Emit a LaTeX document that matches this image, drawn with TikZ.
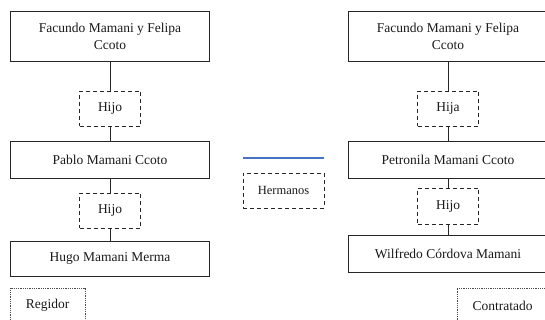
\documentclass[tikz,border=0pt]{standalone}
\usepackage{fontspec}
\setmainfont{Liberation Serif}
\definecolor{azul}{RGB}{68,114,196}
\begin{document}
\begin{tikzpicture}[x=1pt,y=1pt,
    texto/.style={font=\rmfamily\fontsize{13.5}{17}\selectfont,text=black!90},
    persona/.style={texto,draw=black!85,line width=.8pt,minimum width=199pt,inner sep=0pt,align=center},
    parentesco/.style={texto,draw=black!85,line width=.8pt,dash pattern=on 4pt off 3pt,minimum height=35pt,inner sep=0pt},
    cargo/.style={texto,draw=black!70,line width=.6pt,dash pattern=on .8pt off 1pt,minimum height=35pt,inner sep=0pt}]
    \clip (0,0) rectangle (545,320);
    % familia izquierda
    \node[persona,minimum height=50pt] (padresA) at (110,284) {Facundo Mamani y Felipa\\Ccoto};
    \node[parentesco,minimum width=61pt] (hijoA) at (110,211.5) {Hijo};
    \node[persona,minimum height=37pt] (pablo) at (110,160.5) {Pablo Mamani Ccoto};
    \node[parentesco,minimum width=61pt] (hijoB) at (110,109.5) {Hijo};
    \node[persona,minimum height=35pt] (hugo) at (110,61.5) {Hugo Mamani Merma};
    \node[cargo,minimum width=75pt] (regidor) at (47.5,14.5) {Regidor};
    % familia derecha
    \node[persona,minimum height=50pt] (padresB) at (448,284) {Facundo Mamani y Felipa\\Ccoto};
    \node[parentesco,minimum width=61pt] (hija) at (448,211.5) {Hija};
    \node[persona,minimum height=37pt] (petronila) at (448,160.5) {Petronila Mamani Ccoto};
    \node[parentesco,minimum width=61pt,minimum height=36pt] (hijoC) at (448,114) {Hijo};
    \node[persona,minimum height=37pt] (wilfredo) at (448,66.5) {Wilfredo Córdova Mamani};
    \node[cargo,minimum width=91pt] (contratado) at (502.5,14.5) {Contratado};
    % leyenda
    \coordinate (hermA) at (243,162);
    \coordinate (hermB) at (324,162);
    \draw[draw=azul,line width=1.2pt] (hermA) -- (hermB);
    \node[parentesco,minimum width=81pt] (hermanos) at (283.5,129.5) {\fontsize{12.5}{15}\selectfont Hermanos};
    \draw[black!85,line width=.8pt] (padresA) -- (hijoA) (hijoA) -- (pablo) (pablo) -- (hijoB) (hijoB) -- (hugo);
    \draw[black!85,line width=.8pt] (padresB) -- (hija) (hija) -- (petronila) (petronila) -- (hijoC) (hijoC) -- (wilfredo);
\end{tikzpicture}
\end{document}
